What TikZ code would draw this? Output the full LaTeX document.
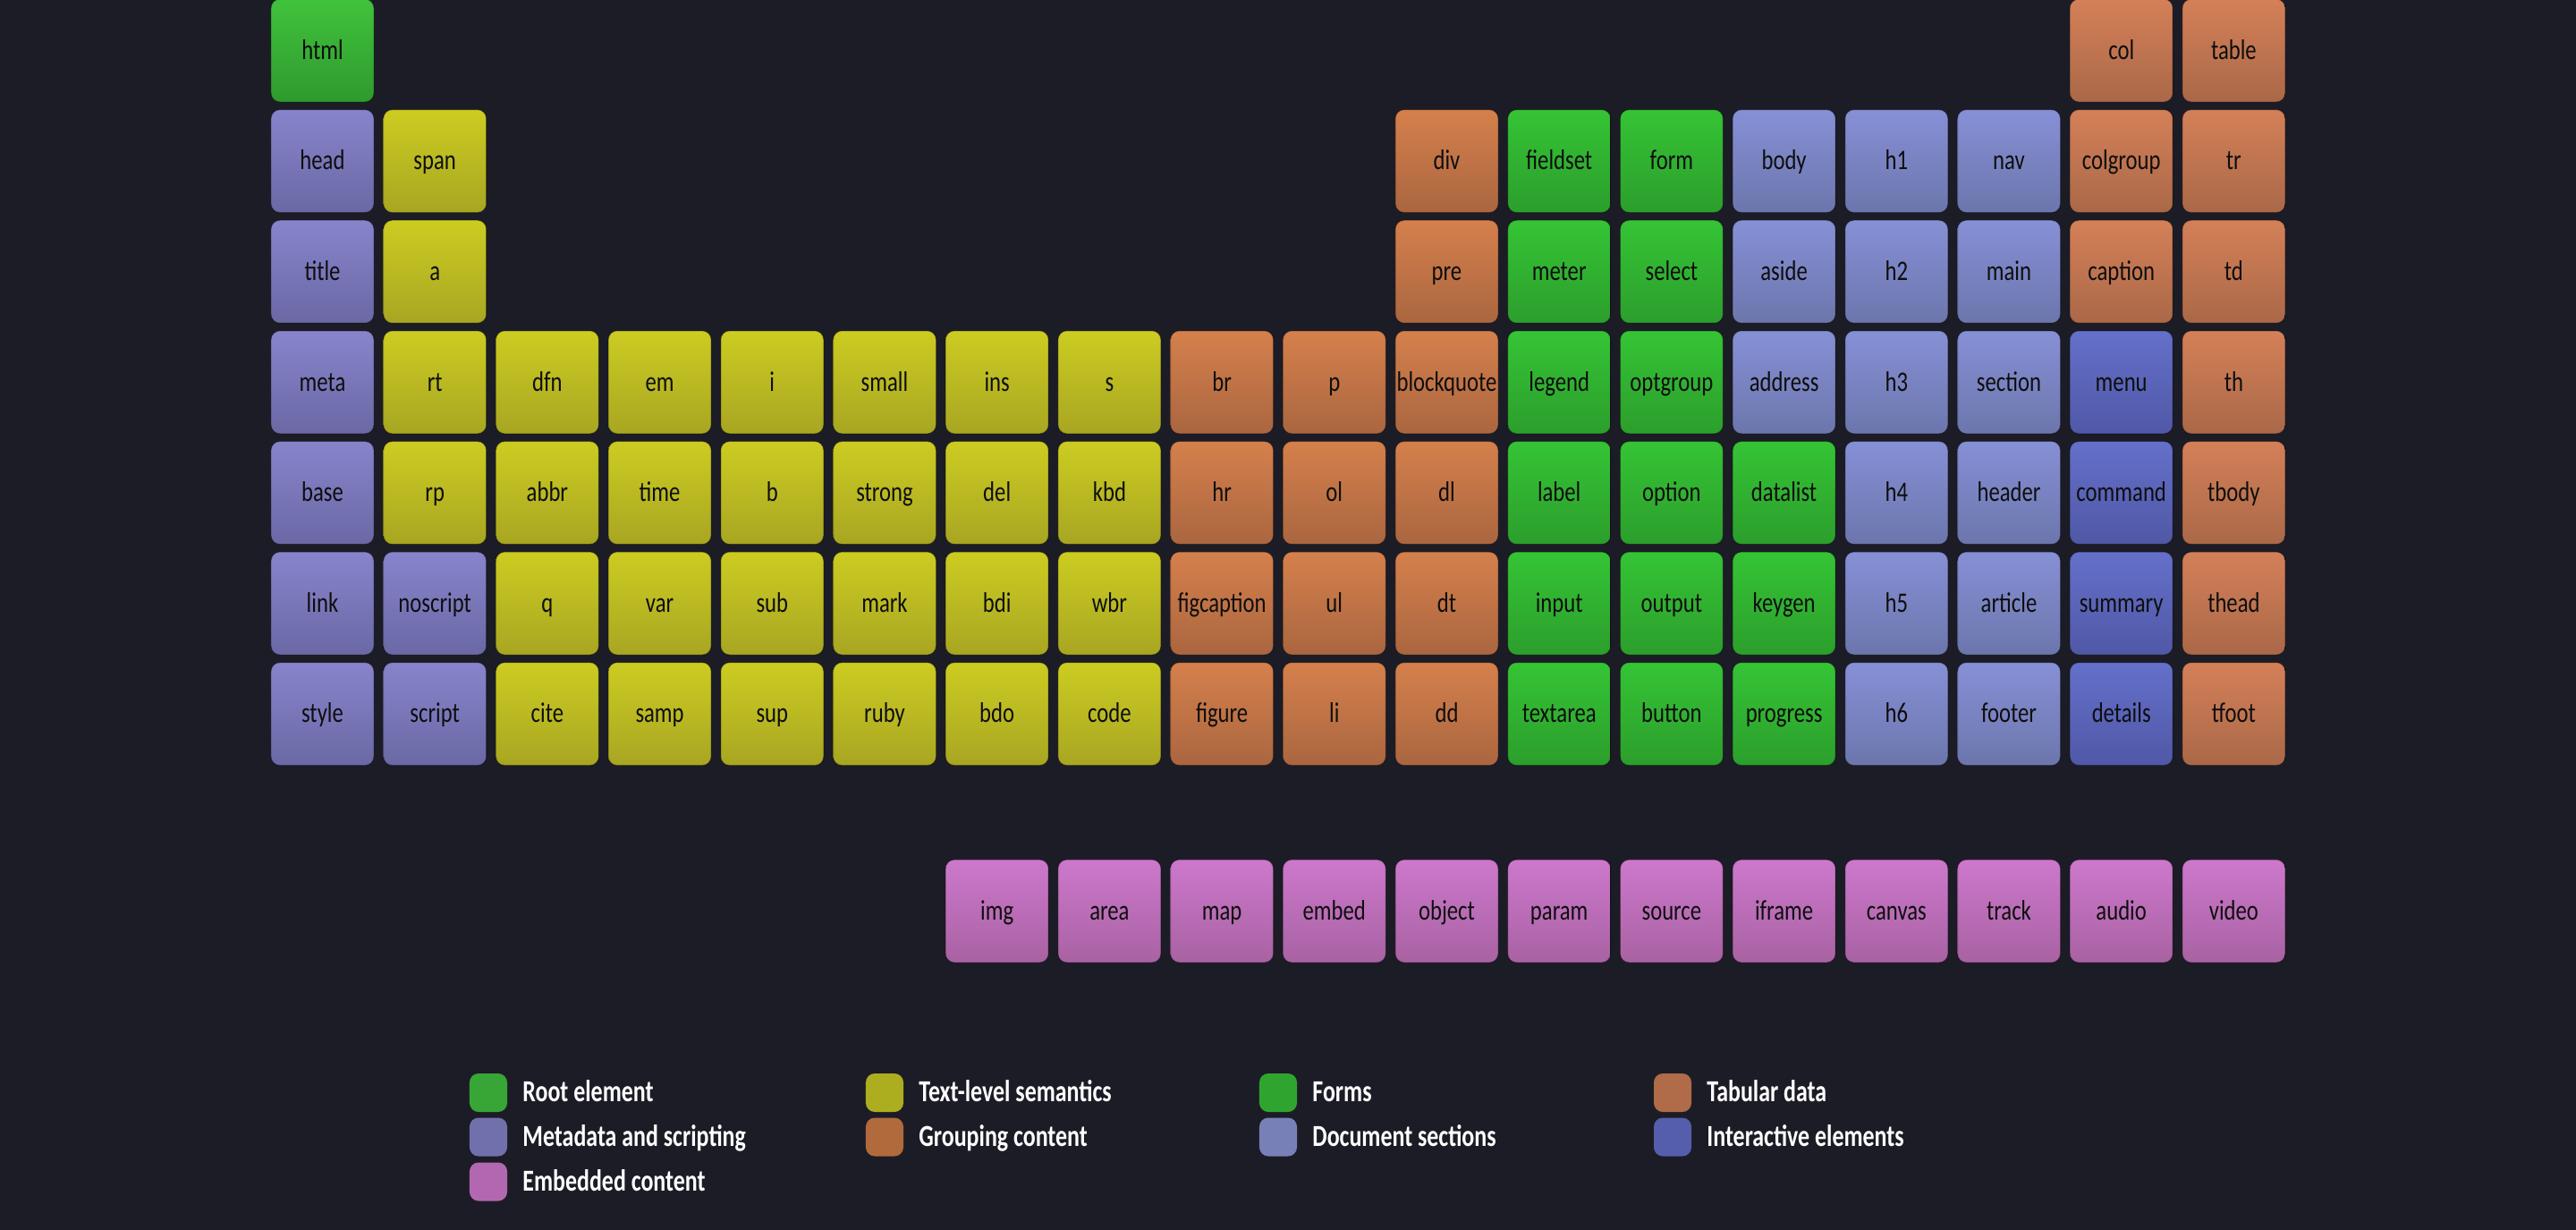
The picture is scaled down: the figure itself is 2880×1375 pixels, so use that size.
\documentclass[tikz,border=0pt]{standalone}
\usepackage{fontspec}
\newfontfamily\cellfont{Carlito}[FakeStretch=0.78]
\newfontfamily\keyfont{Carlito}[FakeStretch=0.76]
\usetikzlibrary{positioning}
\definecolor{Bg}{HTML}{1C1C26}
\definecolor{Ink}{HTML}{0E0E0E}
\definecolor{RootTop}{HTML}{41C23C}
\definecolor{RootBot}{HTML}{2E9A2E}
\definecolor{MetaTop}{HTML}{8784CC}
\definecolor{MetaBot}{HTML}{6B68A5}
\definecolor{TextTop}{HTML}{CCCC22}
\definecolor{TextBot}{HTML}{A8A622}
\definecolor{GroupTop}{HTML}{D5804C}
\definecolor{GroupBot}{HTML}{AA6640}
\definecolor{FormTop}{HTML}{35C435}
\definecolor{FormBot}{HTML}{2C9E2C}
\definecolor{SectTop}{HTML}{8690D6}
\definecolor{SectBot}{HTML}{6C76AC}
\definecolor{TabTop}{HTML}{D48058}
\definecolor{TabBot}{HTML}{AA6848}
\definecolor{InterTop}{HTML}{6470CA}
\definecolor{InterBot}{HTML}{5058A6}
\definecolor{EmbedTop}{HTML}{CD78CC}
\definecolor{EmbedBot}{HTML}{A862A2}
\definecolor{RootKey}{HTML}{38A537}
\definecolor{MetaKey}{HTML}{7170AC}
\definecolor{TextKey}{HTML}{ADAD20}
\definecolor{GroupKey}{HTML}{B06A3C}
\definecolor{FormKey}{HTML}{2FA52F}
\definecolor{SectKey}{HTML}{7880B8}
\definecolor{TabKey}{HTML}{B06B48}
\definecolor{InterKey}{HTML}{545EAC}
\definecolor{EmbedKey}{HTML}{B268B0}
\tikzset{
  elbox/.style={rounded corners=0.1cm,minimum width=1.15cm,minimum height=1.15cm,inner sep=0pt,draw=black,draw opacity=0.35,line width=0.3pt,font=\cellfont\fontsize{9}{10}\selectfont,text=Ink,text height=6.6pt,text depth=1pt},
  rootbox/.style={elbox,top color=RootTop,bottom color=RootBot},
  metabox/.style={elbox,top color=MetaTop,bottom color=MetaBot},
  textbox/.style={elbox,top color=TextTop,bottom color=TextBot},
  groupbox/.style={elbox,top color=GroupTop,bottom color=GroupBot},
  formbox/.style={elbox,top color=FormTop,bottom color=FormBot},
  sectbox/.style={elbox,top color=SectTop,bottom color=SectBot},
  tabbox/.style={elbox,top color=TabTop,bottom color=TabBot},
  interbox/.style={elbox,top color=InterTop,bottom color=InterBot},
  embedbox/.style={elbox,top color=EmbedTop,bottom color=EmbedBot},
  keybox/.style={rounded corners=0.1cm,minimum width=0.42cm,minimum height=0.43cm,inner sep=0pt},
  keytext/.style={inner sep=0pt,font=\keyfont\bfseries\fontsize{9.7}{11}\selectfont,text=white,text height=6.7pt,text depth=1pt}
}

\begin{document}
\begin{tikzpicture}[x=0.01cm,y=-0.01cm]
  \path[use as bounding box,fill=Bg] (0,0) rectangle (2880,1375);
  % periodic table, column/row/element/group
  \foreach \c/\r/\t/\s in {
    0/0/html/rootbox, 16/0/col/tabbox, 17/0/table/tabbox,
    0/1/head/metabox, 1/1/span/textbox, 10/1/div/groupbox, 11/1/fieldset/formbox, 12/1/form/formbox,
    13/1/body/sectbox, 14/1/h1/sectbox, 15/1/nav/sectbox, 16/1/colgroup/tabbox, 17/1/tr/tabbox,
    0/2/title/metabox, 1/2/a/textbox, 10/2/pre/groupbox, 11/2/meter/formbox, 12/2/select/formbox,
    13/2/aside/sectbox, 14/2/h2/sectbox, 15/2/main/sectbox, 16/2/caption/tabbox, 17/2/td/tabbox,
    0/3/meta/metabox, 1/3/rt/textbox, 2/3/dfn/textbox, 3/3/em/textbox, 4/3/i/textbox, 5/3/small/textbox,
    6/3/ins/textbox, 7/3/s/textbox, 8/3/br/groupbox, 9/3/p/groupbox, 10/3/blockquote/groupbox,
    11/3/legend/formbox, 12/3/optgroup/formbox, 13/3/address/sectbox, 14/3/h3/sectbox,
    15/3/section/sectbox, 16/3/menu/interbox, 17/3/th/tabbox,
    0/4/base/metabox, 1/4/rp/textbox, 2/4/abbr/textbox, 3/4/time/textbox, 4/4/b/textbox, 5/4/strong/textbox,
    6/4/del/textbox, 7/4/kbd/textbox, 8/4/hr/groupbox, 9/4/ol/groupbox, 10/4/dl/groupbox,
    11/4/label/formbox, 12/4/option/formbox, 13/4/datalist/formbox, 14/4/h4/sectbox,
    15/4/header/sectbox, 16/4/command/interbox, 17/4/tbody/tabbox,
    0/5/link/metabox, 1/5/noscript/metabox, 2/5/q/textbox, 3/5/var/textbox, 4/5/sub/textbox, 5/5/mark/textbox,
    6/5/bdi/textbox, 7/5/wbr/textbox, 8/5/figcaption/groupbox, 9/5/ul/groupbox, 10/5/dt/groupbox,
    11/5/input/formbox, 12/5/output/formbox, 13/5/keygen/formbox, 14/5/h5/sectbox,
    15/5/article/sectbox, 16/5/summary/interbox, 17/5/thead/tabbox,
    0/6/style/metabox, 1/6/script/metabox, 2/6/cite/textbox, 3/6/samp/textbox, 4/6/sup/textbox, 5/6/ruby/textbox,
    6/6/bdo/textbox, 7/6/code/textbox, 8/6/figure/groupbox, 9/6/li/groupbox, 10/6/dd/groupbox,
    11/6/textarea/formbox, 12/6/button/formbox, 13/6/progress/formbox, 14/6/h6/sectbox,
    15/6/footer/sectbox, 16/6/details/interbox, 17/6/tfoot/tabbox}
    \node[\s] (el-\t) at ({360.5+125.7*\c},{56.5+123.6*\r}) {\t};
  % embedded content row
  \foreach \c/\t in {6/img,7/area,8/map,9/embed,10/object,11/param,12/source,13/iframe,14/canvas,15/track,16/audio,17/video}
    \node[embedbox] (el-\t) at ({360.5+125.7*\c},1018.5) {\t};
  % legend
  \node[keybox,fill=RootKey] (k-root) at (546,1221.5) {};
  \node[keytext,right=0.16cm of k-root] {Root element};
  \node[keybox,fill=TextKey] (k-text) at (989,1221.5) {};
  \node[keytext,right=0.16cm of k-text] {Text-level semantics};
  \node[keybox,fill=FormKey] (k-form) at (1429,1221.5) {};
  \node[keytext,right=0.16cm of k-form] {Forms};
  \node[keybox,fill=TabKey] (k-tab) at (1870,1221.5) {};
  \node[keytext,right=0.16cm of k-tab] {Tabular data};
  \node[keybox,fill=MetaKey] (k-meta) at (546,1271) {};
  \node[keytext,right=0.16cm of k-meta] {Metadata and scripting};
  \node[keybox,fill=GroupKey] (k-group) at (989,1271) {};
  \node[keytext,right=0.16cm of k-group] {Grouping content};
  \node[keybox,fill=SectKey] (k-sect) at (1429,1271) {};
  \node[keytext,right=0.16cm of k-sect] {Document sections};
  \node[keybox,fill=InterKey] (k-inter) at (1870,1271) {};
  \node[keytext,right=0.16cm of k-inter] {Interactive elements};
  \node[keybox,fill=EmbedKey] (k-embed) at (546,1321) {};
  \node[keytext,right=0.16cm of k-embed] {Embedded content};
\end{tikzpicture}
\end{document}
